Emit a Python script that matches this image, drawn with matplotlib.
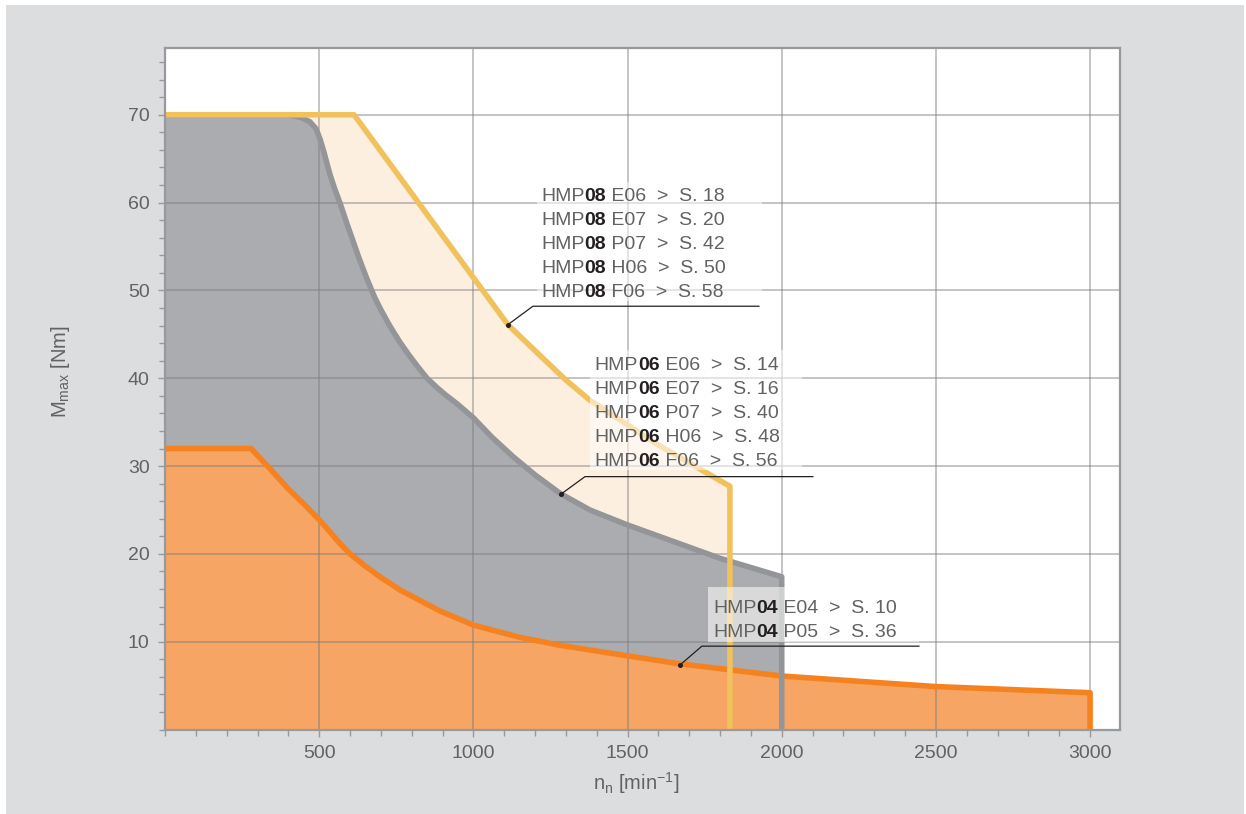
import numpy as np
import matplotlib.pyplot as plt
from matplotlib.patches import Rectangle
from matplotlib.ticker import MultipleLocator, FixedLocator

# Kennlinien (n in min^-1, M in Nm)
n08 = [0, 613, 1112, 1216, 1300, 1378, 1600, 1832]
m08 = [70, 70, 46.1, 42.6, 39.8, 37.5, 32.4, 27.7]

n06 = [0, 400, 440, 470, 490, 503, 515, 535, 550, 567, 590, 610, 630, 654, 680, 700, 730,
       762, 790, 820, 850, 880, 910, 947, 1000, 1060, 1128, 1200, 1281, 1378, 1500, 1650,
       1800, 2000]
m06 = [70, 70, 69.7, 69.2, 68.4, 67.2, 65.8, 63.2, 61.6, 60.0, 57.6, 55.6, 53.6, 51.4, 49.2,
       47.8, 45.9, 44.1, 42.7, 41.3, 40.0, 39.0, 38.1, 37.1, 35.5, 33.3, 31.1, 29.0, 26.9,
       25.0, 23.3, 21.4, 19.5, 17.4]

n04 = [0, 279, 330, 400, 450, 500, 540, 567, 600, 650, 697, 762, 892, 1000, 1151, 1281, 1500,
       1667, 2000, 2500, 3000]
m04 = [32, 32, 30.1, 27.4, 25.7, 23.9, 22.3, 21.2, 20.0, 18.6, 17.4, 15.9, 13.5, 11.9, 10.5,
       9.6, 8.4, 7.5, 6.1, 4.9, 4.2]

labels08 = [("E06", "18"), ("E07", "20"), ("P07", "42"), ("H06", "50"), ("F06", "58")]
labels06 = [("E06", "14"), ("E07", "16"), ("P07", "40"), ("H06", "48"), ("F06", "56")]
labels04 = [("E04", "10"), ("P05", "36")]

xticks = [500, 1000, 1500, 2000, 2500, 3000]
yticks = [10, 20, 30, 40, 50, 60, 70]

FONT = "Liberation Sans"
TXT = "#616264"
BG = "#dcdddf"
plt.rcParams["mathtext.fontset"] = "custom"
plt.rcParams["mathtext.rm"] = FONT

fig = plt.figure(figsize=(12.46, 8.14), dpi=100, facecolor=BG)
# weisser Rand oben/links/rechts
fig.patches.append(Rectangle((0, 1 - 5 / 814), 1, 5 / 814, transform=fig.transFigure,
                             facecolor="white", edgecolor="none", zorder=-1))
fig.patches.append(Rectangle((0, 0), 6 / 1246, 1, transform=fig.transFigure,
                             facecolor="white", edgecolor="none", zorder=-1))
fig.patches.append(Rectangle((1 - 2 / 1246, 0), 2 / 1246, 1, transform=fig.transFigure,
                             facecolor="white", edgecolor="none", zorder=-1))

ax = fig.add_axes([165 / 1246, 1 - 729.6 / 814, (1120 - 165) / 1246, (729.6 - 48) / 814])
ax.set_facecolor("white")
ax.set_xlim(0, 3097)
ax.set_ylim(0, 77.6)

# Flaechen
ax.fill_between(n08, m08, 0, color="#fdefdf", lw=0, zorder=1)
ax.fill_between(n06, m06, 0, color="#abacaf", lw=0, zorder=1.1)
ax.fill_between(n04, m04, 0, color="#f7a564", lw=0, zorder=1.2)

# Gitter
ax.xaxis.set_major_locator(FixedLocator(xticks))
ax.yaxis.set_major_locator(FixedLocator(yticks))
ax.xaxis.set_minor_locator(MultipleLocator(100))
ax.yaxis.set_minor_locator(MultipleLocator(2))
ax.grid(True, which="major", color="#77787b", alpha=0.55, lw=1.1, zorder=2)
ax.set_axisbelow(False)
for gl in ax.get_xgridlines() + ax.get_ygridlines():
    gl.set_zorder(2)

# Linien
ax.plot(n04 + [n04[-1]], m04 + [0], color="#f5821f", lw=4, solid_joinstyle="round", zorder=3.0)
ax.plot(n06 + [n06[-1]], m06 + [0], color="#939598", lw=4, solid_joinstyle="round", zorder=3.1)
ax.plot(n08 + [n08[-1]], m08 + [0], color="#f1c15c", lw=4, solid_joinstyle="round", zorder=3.2)

# Achsen
for s in ax.spines.values():
    s.set_color("#98999c")
    s.set_linewidth(1.6)
    s.set_zorder(5)
ax.tick_params(which="both", direction="out", color="#98999c", labelcolor=TXT,
               labelsize=14, width=1)
ax.tick_params(which="major", length=5, pad=6)
ax.tick_params(which="minor", length=4)
ax.set_xticklabels([str(v) for v in xticks], fontfamily=FONT)
ax.set_yticklabels([str(v) for v in yticks], fontfamily=FONT)

fig.text(60 / 1246, 1 - 372 / 814, r"M$_{\mathregular{max}}$ [Nm]", rotation=90, ha="center",
         va="center", fontsize=14.5, color=TXT, fontfamily=FONT)
fig.text(636 / 1246, 1 - 783 / 814, r"n$_{\mathregular{n}}$ [min$^{\mathregular{-1}}$]", ha="center",
         va="center", fontsize=14.5, color=TXT, fontfamily=FONT)


def callout(code, rows, tx, ty0, dy, box, dot, elbow, xend):
    # halbtransparenter Hintergrund
    ax.add_patch(Rectangle((box[0], box[2]), box[1] - box[0], box[3] - box[2],
                           facecolor="white", alpha=0.55, edgecolor="none", zorder=6))
    for i, (typ, page) in enumerate(rows):
        y = ty0 - i * dy
        t = ax.text(tx, y, "HMP", fontsize=14, color=TXT, fontfamily=FONT,
                    va="center", ha="left", zorder=7)
        t = ax.annotate(code, xy=(1, 0.5), xycoords=t, va="center", ha="left", fontsize=14,
                        color="#231f20", fontweight="bold", fontfamily=FONT, zorder=7)
        ax.annotate(f" {typ}  >  S. {page}", xy=(1, 0.5), xycoords=t, va="center", ha="left",
                    fontsize=14, color=TXT, fontfamily=FONT, zorder=7)
    ax.plot([dot[0], elbow[0], xend], [dot[1], elbow[1], elbow[1]], color="#231f20",
            lw=0.9, zorder=8)
    ax.plot(dot[0], dot[1], "o", color="#231f20", ms=2.6, zorder=8)


callout("08", labels08, 1219, 60.66, 2.73, (1206, 1936, 48.8, 62.4), (1112, 46.1), (1193, 48.2), 1926)
callout("06", labels06, 1394, 41.41, 2.73, (1378, 2065, 29.6, 43.2), (1284, 26.8), (1362, 28.8), 2101)
callout("04", labels04, 1777, 13.76, 2.73, (1761, 2445, 10.0, 16.2), (1670, 7.35), (1741, 9.5), 2445)

fig.savefig("out.png", dpi=100, facecolor=BG)
